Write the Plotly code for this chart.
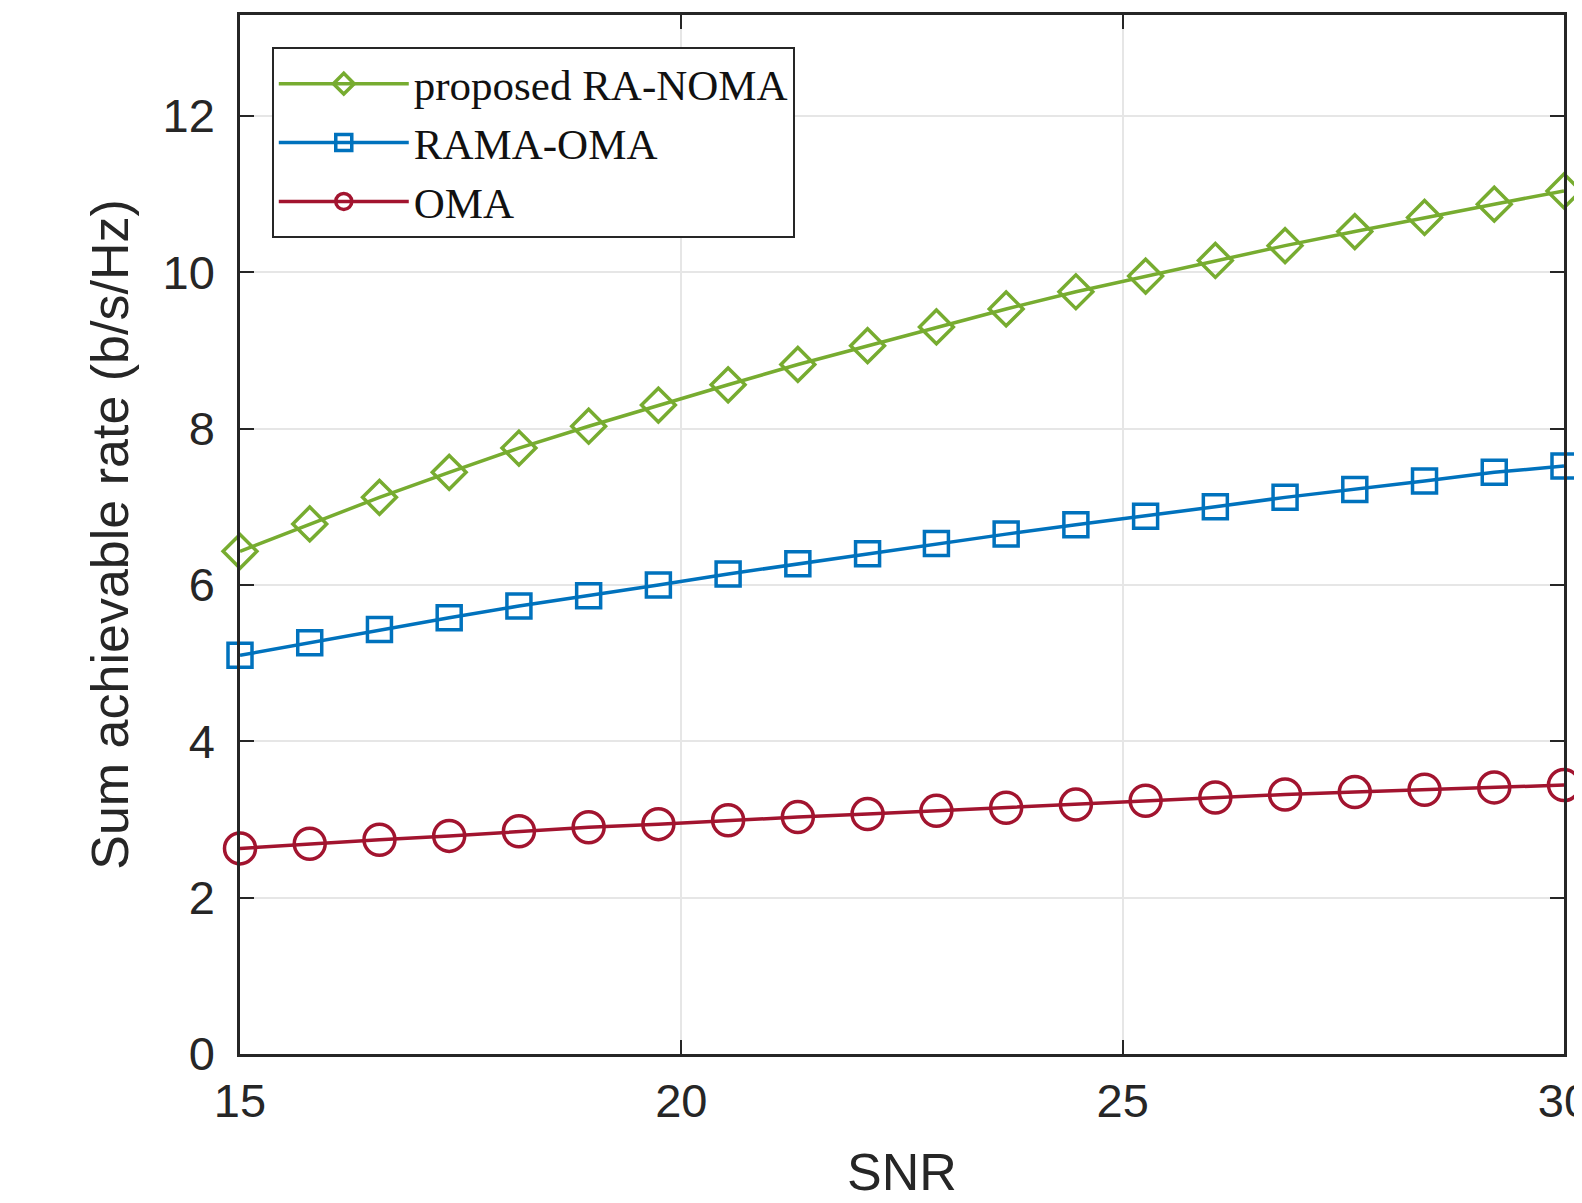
import plotly.graph_objects as go

snr = [15.00, 15.79, 16.58, 17.37, 18.16, 18.95, 19.74, 20.53, 21.32, 22.11,
       22.89, 23.68, 24.47, 25.26, 26.05, 26.84, 27.63, 28.42, 29.21, 30.00]

ra_noma = [6.43, 6.78, 7.12, 7.44, 7.75, 8.03, 8.30, 8.56, 8.82, 9.06,
           9.30, 9.53, 9.75, 9.95, 10.15, 10.34, 10.52, 10.70, 10.87, 11.04]
rama_oma = [5.10, 5.26, 5.43, 5.58, 5.73, 5.86, 6.00, 6.14, 6.27, 6.40,
            6.53, 6.65, 6.77, 6.88, 7.00, 7.12, 7.22, 7.33, 7.44, 7.52]
oma = [2.63, 2.69, 2.74, 2.79, 2.85, 2.90, 2.94, 2.99, 3.03, 3.07,
       3.11, 3.15, 3.19, 3.24, 3.28, 3.32, 3.35, 3.38, 3.41, 3.44]

names = ["proposed RA-NOMA", "RAMA-OMA", "OMA"]
x_ticks = [15, 20, 25, 30]
y_ticks = [0, 2, 4, 6, 8, 10, 12]

TXT = "#262626"
SANS = "Liberation Sans, Arial, sans-serif"
SERIF = "Liberation Serif, Times New Roman, serif"

fig = go.Figure()
styles = [
    (ra_noma, "#77AC30", "diamond-open", 26),
    (rama_oma, "#0072BD", "square-open", 24),
    (oma, "#A2142F", "circle-open", 31),
]
for (vals, col, sym, sz), nm in zip(styles, names):
    fig.add_trace(go.Scatter(
        x=snr, y=vals, name=nm, mode="lines+markers",
        line=dict(color=col, width=3.5),
        marker=dict(symbol=sym, size=sz, color=col, line=dict(color=col, width=3.5)),
        cliponaxis=False,
    ))

axis_common = dict(
    showline=True, linecolor=TXT, linewidth=2.5, mirror="ticks",
    ticks="inside", ticklen=14, tickwidth=2, tickcolor=TXT,
    showgrid=True, gridcolor="#e6e6e6", gridwidth=1.5, zeroline=False,
    tickfont=dict(family=SANS, size=47, color=TXT),
    automargin=False, ticklabeloverflow="allow",
)

fig.update_layout(
    width=1582, height=1203,
    margin=dict(l=232, r=26, t=7, b=157),
    paper_bgcolor="white", plot_bgcolor="white",
    xaxis=dict(range=[15, 30.0001], tickvals=x_ticks, ticklabelstandoff=4,
               title=dict(text="SNR", font=dict(family=SANS, size=52, color=TXT), standoff=28),
               **axis_common),
    yaxis=dict(range=[0, 13.29], tickvals=y_ticks, ticklabelstandoff=13,
               title=dict(text="Sum achievable rate (b/s/Hz)", font=dict(family=SANS, size=52, color=TXT), standoff=18),
               **axis_common),
    legend=dict(x=0.024, y=0.969, xanchor="left", yanchor="top",
                bgcolor="white", bordercolor=TXT, borderwidth=2,
                font=dict(family=SERIF, size=43, color="#111111"),
                itemwidth=130, tracegroupgap=0),
    showlegend=True,
)

fig.write_html("out.html")
